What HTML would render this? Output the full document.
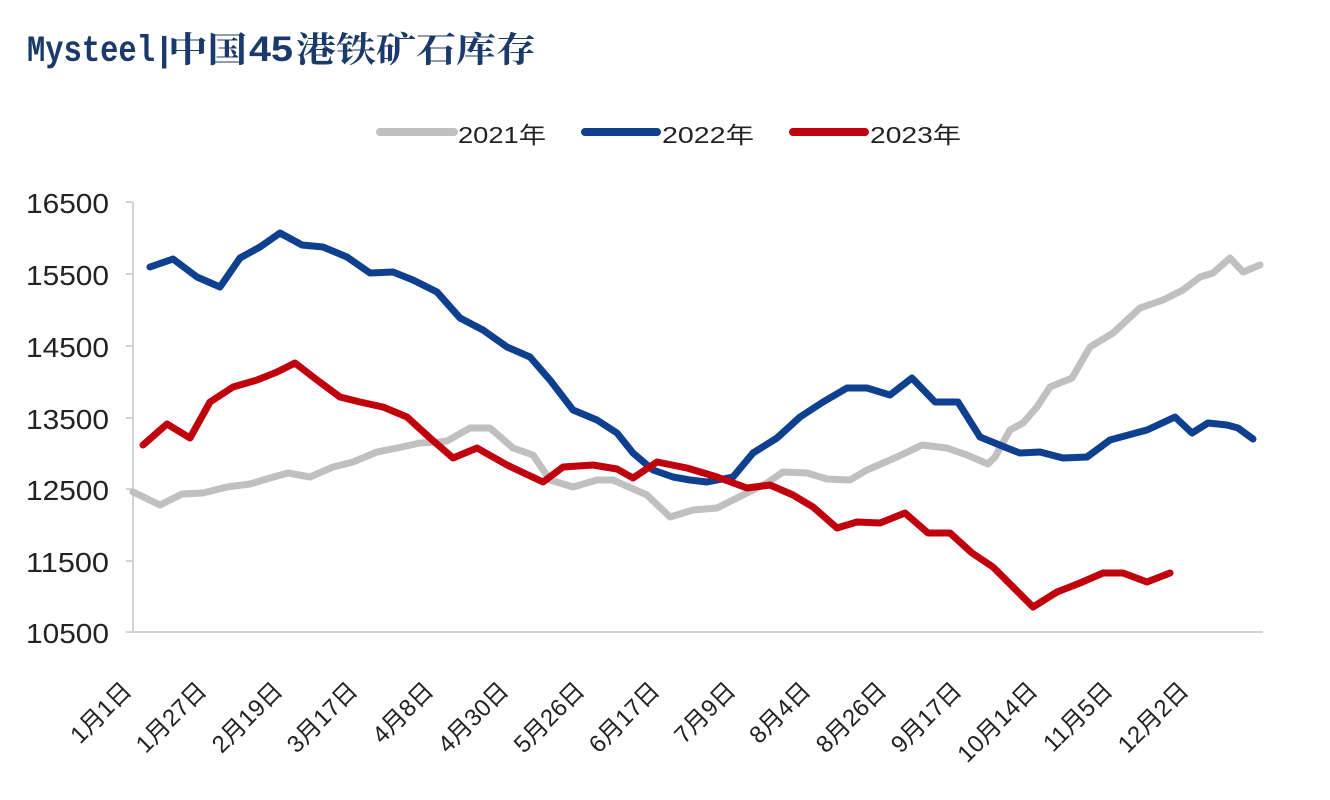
<!DOCTYPE html>
<html><head><meta charset="utf-8"><style>
html,body{margin:0;padding:0;background:#fff;}
svg{display:block;}
</style></head><body>
<svg width="1330" height="800" viewBox="0 0 1330 800" xmlns="http://www.w3.org/2000/svg" style="font-family:'Liberation Sans','Noto Sans CJK SC',sans-serif;">
<rect width="1330" height="800" fill="#fff"/>
<!-- Title -->
<g fill="#1b3a6b" font-weight="bold">
<text x="27" y="61" style="font-family:'Liberation Mono',monospace;font-size:37px;font-weight:bold;" textLength="128" lengthAdjust="spacingAndGlyphs">Mysteel</text>
<text x="154" y="61" style="font-family:'Liberation Mono',monospace;font-size:34px;font-weight:bold;">|</text>
<text x="168" y="62" style="font-family:'Noto Serif CJK SC',serif;font-size:35px;font-weight:bold;" textLength="79" lengthAdjust="spacingAndGlyphs">中国</text>
<text x="249" y="61" style="font-family:'Liberation Sans',sans-serif;font-size:35px;font-weight:bold;" textLength="44" lengthAdjust="spacingAndGlyphs">45</text>
<text x="296" y="62" style="font-family:'Noto Serif CJK SC',serif;font-size:35px;font-weight:bold;" textLength="240" lengthAdjust="spacingAndGlyphs">港铁矿石库存</text>
</g>
<!-- Legend -->
<g stroke-width="8" stroke-linecap="round">
<line x1="380" y1="132" x2="454" y2="132" stroke="#c0c0c0"/>
<line x1="585" y1="132" x2="657" y2="132" stroke="#0f3f8f"/>
<line x1="793" y1="132" x2="865" y2="132" stroke="#c0000c"/>
</g>
<g fill="#222" style="font-size:23px;">
<text x="458" y="143" textLength="88" lengthAdjust="spacingAndGlyphs">2021年</text>
<text x="662" y="143" textLength="92" lengthAdjust="spacingAndGlyphs">2022年</text>
<text x="870" y="143" textLength="91" lengthAdjust="spacingAndGlyphs">2023年</text>
</g>
<!-- Axes -->
<g stroke="#d4d4d4" stroke-width="2">
<line x1="133" y1="202" x2="133" y2="633"/>
<line x1="126" y1="632" x2="1263" y2="632"/>
<line x1="126" y1="202" x2="133" y2="202"/>
<line x1="126" y1="274" x2="133" y2="274"/>
<line x1="126" y1="346" x2="133" y2="346"/>
<line x1="126" y1="418" x2="133" y2="418"/>
<line x1="126" y1="489" x2="133" y2="489"/>
<line x1="126" y1="561" x2="133" y2="561"/>
</g>
<g fill="#222" style="font-size:28px;" text-anchor="end">
<text x="109" y="213" textLength="83" lengthAdjust="spacingAndGlyphs">16500</text>
<text x="109" y="285" textLength="83" lengthAdjust="spacingAndGlyphs">15500</text>
<text x="109" y="357" textLength="83" lengthAdjust="spacingAndGlyphs">14500</text>
<text x="109" y="429" textLength="83" lengthAdjust="spacingAndGlyphs">13500</text>
<text x="109" y="500" textLength="83" lengthAdjust="spacingAndGlyphs">12500</text>
<text x="109" y="572" textLength="83" lengthAdjust="spacingAndGlyphs">11500</text>
<text x="109" y="643" textLength="83" lengthAdjust="spacingAndGlyphs">10500</text>
</g>
<!-- X labels -->
<g fill="#222" style="font-size:24px;" text-anchor="end">
<text transform="translate(133,692) rotate(-45)">1月1日</text>
<text transform="translate(208,692) rotate(-45)">1月27日</text>
<text transform="translate(284,692) rotate(-45)">2月19日</text>
<text transform="translate(359,692) rotate(-45)">3月17日</text>
<text transform="translate(435,692) rotate(-45)">4月8日</text>
<text transform="translate(510,692) rotate(-45)">4月30日</text>
<text transform="translate(586,692) rotate(-45)">5月26日</text>
<text transform="translate(661,692) rotate(-45)">6月17日</text>
<text transform="translate(737,692) rotate(-45)">7月9日</text>
<text transform="translate(812,692) rotate(-45)">8月4日</text>
<text transform="translate(888,692) rotate(-45)">8月26日</text>
<text transform="translate(963,692) rotate(-45)">9月17日</text>
<text transform="translate(1039,692) rotate(-45)">10月14日</text>
<text transform="translate(1114,692) rotate(-45)">11月5日</text>
<text transform="translate(1190,692) rotate(-45)">12月2日</text>
</g>
<!-- Series -->
<g fill="none" stroke-width="7" stroke-linejoin="round" stroke-linecap="round">
<polyline stroke="#c0c0c0" points="133,492 160,505 182,494 203,493 227,487 250,484 270,478 288,473 310,477 333,467 353,462 377,452 397,448 420,443 440,442 447,441 470,428 490,428 513,448 533,455 550,480 573,487 597,480 613,480 647,495 670,517 693,510 717,508 733,500 753,490 767,483 783,472 807,473 827,479 850,480 867,470 897,457 922,445 947,448 967,455 988,464 995,457 1010,430 1023,423 1037,407 1050,387 1072,378 1090,347 1113,333 1140,308 1163,300 1183,290 1200,277 1213,273 1230,258 1243,272 1260,265"/>
<polyline stroke="#0f3f8f" points="150,267 173,259 197,277 220,287 240,258 260,247 280,233 302,245 323,247 347,257 370,273 393,272 413,280 437,292 460,318 483,330 507,347 530,357 550,380 573,410 597,420 617,433 633,453 653,470 673,477 690,480 707,482 733,477 753,453 777,438 800,417 823,402 847,388 867,388 890,395 912,378 935,402 958,402 980,437 1007,448 1020,453 1040,452 1063,458 1087,457 1110,440 1147,430 1175,417 1192,433 1208,423 1227,425 1238,428 1253,439"/>
<polyline stroke="#c0000c" points="143,445 167,424 190,438 210,402 233,387 257,380 277,372 295,363 317,380 340,397 360,402 383,407 407,417 430,438 453,458 477,448 507,465 543,482 563,467 593,465 617,469 633,478 657,462 687,468 717,477 747,488 770,485 793,495 813,507 837,528 857,522 880,523 905,513 928,533 950,533 972,553 993,567 1013,587 1033,607 1057,592 1080,583 1103,573 1123,573 1147,582 1170,573"/>
</g>
</svg>
</body></html>
